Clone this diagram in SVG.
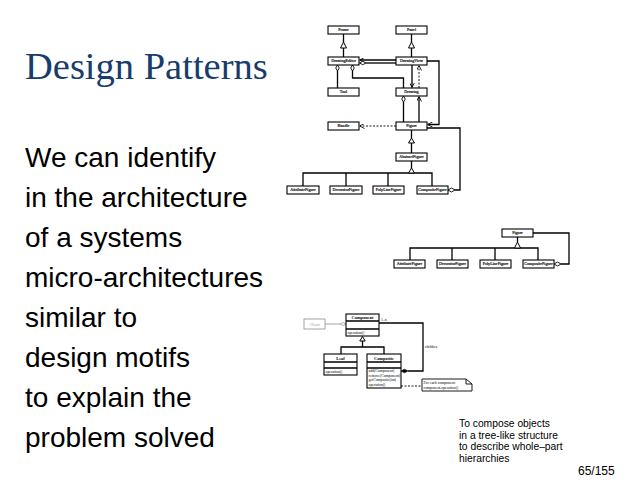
<svg xmlns="http://www.w3.org/2000/svg" width="638" height="493" viewBox="0 0 638 493">
<style>
.bx{fill:#fff;stroke:#000;stroke-width:1.1}
.t{font-family:"Liberation Serif",serif;font-size:4.1px;text-anchor:middle;fill:#000;stroke:#000;stroke-width:0.15}
.tb{font-family:"Liberation Serif",serif;font-size:4.4px;font-weight:bold;text-anchor:middle;fill:#000}
.tl{font-family:"Liberation Serif",serif;font-size:3.8px;fill:#000}
.ln{fill:none;stroke:#000;stroke-width:1.3}
.dl{fill:none;stroke:#000;stroke-width:0.9;stroke-dasharray:2,1.5}
.tri{fill:#fff;stroke:#000;stroke-width:1}
.dia{fill:#fff;stroke:#000;stroke-width:0.9}
.body{font-family:"Liberation Sans",Arial,sans-serif;font-size:28px;fill:#000}
.sm{font-family:"Liberation Sans",Arial,sans-serif;font-size:10.3px;fill:#000}
</style>
<defs>
<marker id="arr" viewBox="0 0 6 6" refX="6" refY="3" markerWidth="5" markerHeight="5" markerUnits="userSpaceOnUse" orient="auto"><path d="M0,0 L6,3 L0,6" fill="none" stroke="#000" stroke-width="1"/></marker>
</defs>
<rect width="638" height="493" fill="#fff"/>
<text x="25" y="79" font-family="Liberation Serif,serif" font-size="38.5" fill="#183c6c">Design Patterns</text>
<g id="bodytext" class="body">
<text x="25" y="167">We can identify</text>
<text x="25" y="207">in the architecture</text>
<text x="25" y="247">of a systems</text>
<text x="25" y="287">micro-architectures</text>
<text x="25" y="327">similar to</text>
<text x="25" y="367">design motifs</text>
<text x="25" y="407">to explain the</text>
<text x="25" y="447">problem solved</text>
</g>
<g id="caption" class="sm">
<text x="459" y="427">To compose objects</text>
<text x="459" y="438.5">in a tree-like structure</text>
<text x="459" y="450">to describe whole–part</text>
<text x="459" y="461.5">hierarchies</text>
</g>
<text id="page" x="578" y="475" font-family="Liberation Sans,Arial,sans-serif" font-size="12">65/155</text>

<g id="connectors">
<path class="ln" d="M343.5,34 V42 M343.5,48 V57"/>
<path class="tri" d="M343.5,42 L346.5,48 L340.5,48 Z"/>
<path class="ln" d="M411.5,34 V42 M411.5,48 V57"/>
<path class="tri" d="M411.5,42 L414.5,48 L408.5,48 Z"/>
<path class="ln" d="M396,60 H359.5" marker-end="url(#arr)"/>
<path class="ln" d="M396,63 H366"/>
<path class="dia" d="M359.5,63 L362.7,61.3 L366,63 L362.7,64.7 Z"/>
<path class="ln" d="M427,61 H439 V124.5 H427.5" marker-end="url(#arr)"/>
<path class="ln" d="M427,128 H460 V190 H455"/>
<path class="dia" d="M448,190 L451.5,188 L455,190 L451.5,192 Z"/>
<path class="ln" d="M337.5,88 V71"/>
<path class="dia" d="M337.5,65 L339.3,68 L337.5,71 L335.7,68 Z"/>
<path class="ln" d="M352.5,71 V78 H403.5 V88"/>
<path class="dia" d="M352.5,65 L354.3,68 L352.5,71 L350.7,68 Z"/>
<path class="ln" d="M412,65 V87.5" marker-end="url(#arr)"/>
<path class="dl" d="M419,88 V65.5" marker-end="url(#arr)"/>
<path class="ln" d="M403.5,122 V102"/>
<path class="dia" d="M403.5,96 L405.3,99 L403.5,102 L401.7,99 Z"/>
<path class="ln" d="M419,122 V96.5" marker-end="url(#arr)"/>
<path class="dl" d="M396,126 H359.5" marker-end="url(#arr)"/>
<path class="ln" d="M411.5,130 V138 M411.5,143 V153"/>
<path class="tri" d="M411.5,138 L414.5,143 L408.5,143 Z"/>
<path class="ln" d="M411.5,161 V168 M303,186 V173 H432 V186 M346,173 V186 M388,173 V186"/>
<path class="tri" d="M411.5,168 L414.5,173 L408.5,173 Z"/>
<path class="ln" d="M517.5,237 V242"/>
<path class="ln" d="M410,260 V248 H538 V260 M452,248 V260 M495,248 V260"/>
<path class="tri" d="M517.5,242 L520.5,248 L514.5,248 Z"/>
<path class="ln" d="M533,233 H569 V264 H561"/>
<path class="dia" d="M554,264 L557.5,262 L561,264 L557.5,266 Z"/>
<path fill="none" stroke="#999" stroke-width="0.9" d="M325,324 H340"/>
<path fill="#fff" stroke="#999" stroke-width="0.8" d="M340,324 L343,322.5 L346,324 L343,325.5 Z"/>
<path class="ln" d="M379,323 H423 V371 H408"/>
<path fill="#000" stroke="#000" stroke-width="0.6" d="M401,371 L404.5,369.2 L408,371 L404.5,372.8 Z"/>
<path class="ln" d="M362.5,341 V347 M341,354 V347 H384 V354"/>
<path class="tri" d="M362.5,336.5 L365.2,341 L359.8,341 Z"/>
<path class="dl" d="M401,386 H422"/>
</g>

<g id="Frame"><rect class="bx" x="328" y="26" width="31" height="8"/><text class="t" x="343.5" y="31.4">Frame</text></g>
<g id="Panel"><rect class="bx" x="396" y="26" width="31" height="8"/><text class="t" x="411.5" y="31.4">Panel</text></g>
<g id="DrawingEditor"><rect class="bx" x="328" y="57" width="31" height="8"/><text class="t" x="343.5" y="62.4">DrawingEditor</text></g>
<g id="DrawingView"><rect class="bx" x="396" y="57" width="31" height="8"/><text class="t" x="411.5" y="62.4">DrawingView</text></g>
<g id="Tool"><rect class="bx" x="328" y="88" width="31" height="8"/><text class="t" x="343.5" y="93.4">Tool</text></g>
<g id="Drawing"><rect class="bx" x="396" y="88" width="31" height="8"/><text class="t" x="411.5" y="93.4">Drawing</text></g>
<g id="Handle"><rect class="bx" x="328" y="122" width="31" height="8"/><text class="t" x="343.5" y="127.4">Handle</text></g>
<g id="Figure"><rect class="bx" x="396" y="122" width="31" height="8"/><text class="t" x="411.5" y="127.4">Figure</text></g>
<g id="AbstractFigure"><rect class="bx" x="396" y="153" width="31" height="8"/><text class="t" x="411.5" y="158.4">AbstractFigure</text></g>
<g id="AttributeFigure"><rect class="bx" x="287" y="186" width="32" height="8"/><text class="t" x="303" y="191.4">AttributeFigure</text></g>
<g id="DecoratorFigure"><rect class="bx" x="330" y="186" width="32" height="8"/><text class="t" x="346" y="191.4">DecoratorFigure</text></g>
<g id="PolyLineFigure"><rect class="bx" x="373" y="186" width="31" height="8"/><text class="t" x="388.5" y="191.4">PolyLineFigure</text></g>
<g id="CompositeFigure"><rect class="bx" x="417" y="186" width="31" height="8"/><text class="t" x="432.5" y="191.4">CompositeFigure</text></g>

<g id="Figure2"><rect class="bx" x="502" y="229" width="31" height="8"/><text class="t" x="517.5" y="234.4">Figure</text></g>
<g id="AttributeFigure2"><rect class="bx" x="394" y="260" width="31" height="8"/><text class="t" x="409.5" y="265.4">AttributeFigure</text></g>
<g id="DecoratorFigure2"><rect class="bx" x="437" y="260" width="31" height="8"/><text class="t" x="452.5" y="265.4">DecoratorFigure</text></g>
<g id="PolyLineFigure2"><rect class="bx" x="480" y="260" width="31" height="8"/><text class="t" x="495.5" y="265.4">PolyLineFigure</text></g>
<g id="CompositeFigure2"><rect class="bx" x="523" y="260" width="31" height="8"/><text class="t" x="538.5" y="265.4">CompositeFigure</text></g>

<g id="Client"><rect x="304" y="319" width="21" height="10" fill="#fff" stroke="#999" stroke-width="0.9"/><text x="314.5" y="325.5" font-family="Liberation Serif,serif" font-size="4.2" text-anchor="middle" fill="#999">Client</text></g>
<g id="Component"><rect class="bx" x="346" y="314" width="33" height="22"/><path class="ln" d="M346,321 H379 M346,329 H379"/><text class="tb" x="362.5" y="319.3">Component</text><text class="tl" x="347.5" y="334">operation()</text></g>
<text class="tl" x="381" y="320.5">1..n</text>
<text class="tl" x="425" y="347.5">children</text>
<g id="Leaf"><rect class="bx" x="324" y="354" width="33" height="21"/><path class="ln" d="M324,362 H357 M324,368 H357"/><text class="tb" x="340.5" y="359.6">Leaf</text><text class="tl" x="325.5" y="373">operation()</text></g>
<g id="Composite"><rect class="bx" x="367" y="354" width="34" height="34"/><path class="ln" d="M367,362 H401 M367,368 H401"/><text class="tb" x="384" y="359.6">Composite</text>
<text class="tl" x="368.5" y="372.3">add(Component)</text><text class="tl" x="368.5" y="376.8">remove(Component)</text><text class="tl" x="368.5" y="381.3">getComposite(int)</text><text class="tl" x="368.5" y="385.8">operation()</text></g>
<g id="Note"><path fill="#fff" stroke="#000" stroke-width="0.9" d="M422,379 H466 L472,384 V391 H422 Z M466,379 V384 H472"/><text class="tl" x="423.5" y="384" font-size="3.4">For each component:</text><text class="tl" x="423.5" y="389" font-size="3.4">component.operation()</text></g>
</svg>
